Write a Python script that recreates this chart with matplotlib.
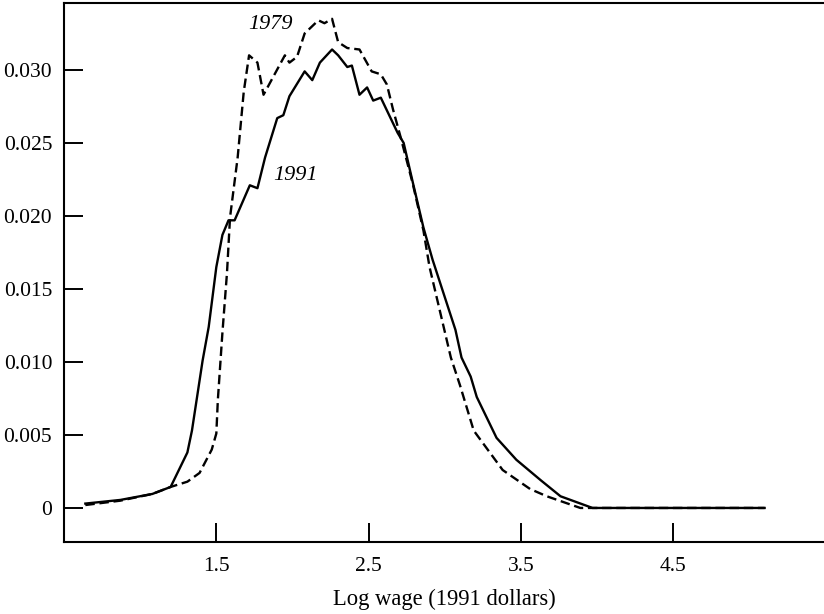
import matplotlib
matplotlib.use("Agg")
import matplotlib.pyplot as plt
from matplotlib.ticker import FixedLocator, FixedFormatter

plt.rcParams['font.family'] = ['Liberation Serif', 'DejaVu Serif']

# Плотность распределения логарифма зарплаты, 1991 (сплошная линия)
x_1991 = [0.64, 0.87, 1.08, 1.20, 1.31, 1.34, 1.41, 1.45, 1.50, 1.54, 1.58, 1.62,
          1.72, 1.77, 1.82, 1.90, 1.94, 1.98, 2.08, 2.13, 2.18, 2.26, 2.30, 2.36,
          2.39, 2.44, 2.49, 2.53, 2.58, 2.69, 2.73, 2.79, 2.86, 2.92, 3.02, 3.07,
          3.11, 3.17, 3.21, 3.34, 3.47, 3.63, 3.76, 3.97, 5.10]
y_1991 = [0.0003, 0.00055, 0.00096, 0.00144, 0.0038, 0.0053, 0.0101, 0.0124, 0.0165,
          0.0187, 0.0197, 0.0197, 0.0221, 0.0219, 0.0240, 0.0267, 0.0269, 0.0282,
          0.0299, 0.0293, 0.0305, 0.0314, 0.0310, 0.0302, 0.0303, 0.0283, 0.0288,
          0.0279, 0.0281, 0.0257, 0.0250, 0.0223, 0.0192, 0.0170, 0.0138, 0.0122,
          0.0103, 0.0090, 0.0076, 0.0048, 0.0033, 0.0019, 0.0008, 0.0, 0.0]

# 1979 (пунктир)
x_1979 = [0.64, 0.87, 1.08, 1.20, 1.31, 1.39, 1.47, 1.50, 1.51, 1.54, 1.57, 1.59,
          1.64, 1.68, 1.715, 1.77, 1.81, 1.95, 1.98, 2.03, 2.08, 2.17, 2.21, 2.26,
          2.30, 2.36, 2.44, 2.52, 2.58, 2.62, 2.66, 2.71, 2.79, 2.86, 2.90, 2.97,
          3.04, 3.10, 3.19, 3.38, 3.56, 3.67, 3.89, 5.10]
y_1979 = [0.0002, 0.0005, 0.00096, 0.00144, 0.0018, 0.0024, 0.0040, 0.0051, 0.0074,
          0.0120, 0.0161, 0.0199, 0.0240, 0.0285, 0.0310, 0.0305, 0.0283, 0.0310,
          0.0305, 0.0309, 0.0325, 0.0334, 0.0332, 0.0335, 0.0319, 0.0315, 0.0314,
          0.0299, 0.0297, 0.0290, 0.0273, 0.0254, 0.0222, 0.0190, 0.0165, 0.0134,
          0.0103, 0.0084, 0.0053, 0.0026, 0.0013, 0.0008, 0.0, 0.0]

x_ticks = [1.5, 2.5, 3.5, 4.5]
x_labels = ['1.5', '2.5', '3.5', '4.5']
y_ticks = [0, 0.005, 0.010, 0.015, 0.020, 0.025, 0.030]
y_labels = ['0', '0.005', '0.010', '0.015', '0.020', '0.025', '0.030']

fig = plt.figure(figsize=(8.24, 6.14), dpi=100)
ax = fig.add_axes([0.0777, 0.1173, 0.9223, 0.877])

ax.plot(x_1991, y_1991, color='black', lw=1.7)
ax.plot(x_1979, y_1979, color='black', lw=1.7, linestyle=(0, (4, 2)))

ax.text(1.855, 0.0331, '1979', style='italic', fontsize=16, ha='center', va='center')
ax.text(2.02, 0.0228, '1991', style='italic', fontsize=16, ha='center', va='center')

ax.set_xlim(0.5, 5.49)
ax.set_ylim(-0.00233, 0.03455)

ax.xaxis.set_major_locator(FixedLocator(x_ticks))
ax.xaxis.set_major_formatter(FixedFormatter(x_labels))
ax.yaxis.set_major_locator(FixedLocator(y_ticks))
ax.yaxis.set_major_formatter(FixedFormatter(y_labels))

ax.tick_params(axis='x', direction='in', length=14, width=1.4, pad=11, labelsize=15.5)
ax.tick_params(axis='y', direction='in', length=14, width=1.4, pad=8.5, labelsize=15.5)

for side in ['left', 'bottom', 'top']:
    ax.spines[side].set_linewidth(1.5)
ax.spines['right'].set_visible(False)

ax.set_xlabel('Log wage (1991 dollars)', fontsize=16.3, labelpad=9)

fig.savefig('out.png', dpi=100)
